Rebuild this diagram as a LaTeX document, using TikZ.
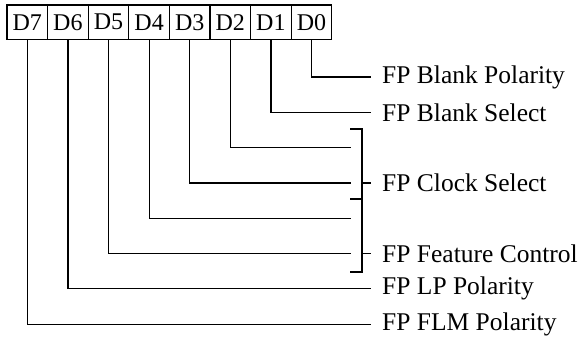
\documentclass[tikz,border=0pt]{standalone}
\usepackage{fontspec}
\setmainfont{Liberation Serif}
\usetikzlibrary{positioning}

\tikzset{
  wire/.style={line width=1.2pt,line cap=rect},
  bitbox/.style={draw,line width=1.2pt,minimum width=40.6pt,
    minimum height=34.5pt,inner sep=0pt,outer sep=0pt,
    font=\fontsize{24}{24}\selectfont},
  fieldlabel/.style={inner sep=2pt,font=\fontsize{25.5}{25.5}\selectfont}
}

\begin{document}
\begin{tikzpicture}[x=1pt,y=-1pt,node distance=10pt]
  \useasboundingbox (0,0) rectangle (580,341);
  % register bits
  \node[bitbox] (b7) at (27.3,22.25) {D7};
  \foreach \i/\j in {6/7,5/6,4/5,3/4,2/3,1/2,0/1}
    \node[bitbox,right=0pt of b\j] (b\i) {D\i};
  % free ends of the bit wires
  \foreach \i/\xe in {0/370,1/370,2/350,3/350,4/350,5/350,6/370,7/370}
    \coordinate (e\i) at (\xe,77+35.3*\i);
  \foreach \i in {0,...,7}
    \draw[wire] (b\i.south) |- (e\i);
  % brackets for the two-bit fields
  \coordinate (kt) at (362,129);
  \coordinate (km) at (362,199);
  \coordinate (kb) at (362,272);
  \coordinate (clk) at (370,182.9);
  \coordinate (feat) at (370,253.5);
  \draw[wire] (351,129) -- (kt) -- (kb) -- (351,272);
  \draw[wire] (351,199) -- (km);
  \draw[wire] (kt|-clk) -- (clk);
  \draw[wire] (kt|-feat) -- (feat);
  % field names
  \node[fieldlabel,right=of e0] (blpol) {FP Blank Polarity};
  \node[fieldlabel,right=of e1] (blsel) {FP Blank Select};
  \node[fieldlabel,right=of clk] (clksel) {FP Clock Select};
  \node[fieldlabel,right=of feat] (featctl) {FP Feature Control};
  \node[fieldlabel,right=of e6] (lppol) {FP LP Polarity};
  \node[fieldlabel,right=of e7] (flmpol) {FP FLM Polarity};
\end{tikzpicture}
\end{document}
